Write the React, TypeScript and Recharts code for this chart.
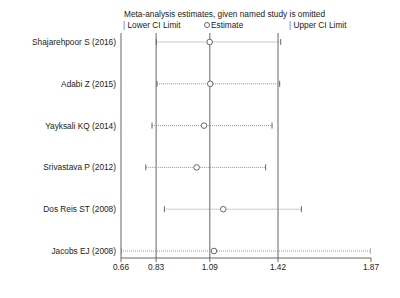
import React from 'react';
import { ScatterChart, Scatter, XAxis, YAxis, ReferenceLine } from 'recharts';

const studies = [
  'Shajarehpoor S (2016)',
  'Adabi Z (2015)',
  'Yayksali KQ (2014)',
  'Srivastava P (2012)',
  'Dos Reis ST (2008)',
  'Jacobs EJ (2008)',
];
const estimates = [1.089, 1.092, 1.062, 1.026, 1.155, 1.11];
const lowers = [0.831, 0.834, 0.81, 0.78, 0.87, 0.66];
const uppers = [1.433, 1.428, 1.391, 1.36, 1.533, 1.87];
const xTicks = [0.66, 0.83, 1.09, 1.42, 1.87];
const refLines = [0.83, 1.09, 1.42];

const FONT = '"Liberation Sans", Arial, sans-serif';
const FS = 8.3;
const TEXT = '#222';
const LINE = '#666';
const DOT = '#999';

const Cap = (props: any) => {
  const { cx, cy } = props;
  return <line x1={cx} x2={cx} y1={cy - 3} y2={cy + 3} stroke={LINE} strokeWidth={1} />;
};

const Circ = (props: any) => {
  const { cx, cy } = props;
  return <circle cx={cx} cy={cy} r={2.8} fill="#fff" stroke={LINE} strokeWidth={1} />;
};

const YTick = (props: any) => {
  const { x, y, payload } = props;
  return (
    <text x={x} y={y} dy="0.35em" textAnchor="end" fontSize={FS} fontFamily={FONT} fill={TEXT}>
      {studies[payload.value]}
    </text>
  );
};

const XTick = (props: any) => {
  const { x, y, payload } = props;
  return (
    <text x={x} y={y} dy="0.71em" textAnchor="middle" fontSize={FS} fontFamily={FONT} fill={TEXT}>
      {Number(payload.value).toFixed(2)}
    </text>
  );
};

export default function App() {
  const estData = estimates.map((v, i) => ({ x: v, y: i }));
  const txt: React.CSSProperties = { position: 'absolute', fontSize: FS, color: TEXT, whiteSpace: 'nowrap', lineHeight: '10px' };
  return (
    <div style={{ position: 'absolute', left: 0, top: 0, width: 400, height: 298, background: '#fff', fontFamily: FONT }}>
      <ScatterChart width={400} height={298} margin={{ top: 33, right: 29, left: 0, bottom: 0 }}>
        <XAxis
          type="number"
          dataKey="x"
          domain={[0.66, 1.87]}
          ticks={xTicks}
          height={40}
          stroke={LINE}
          tickSize={4}
          tickMargin={2}
          tick={<XTick />}
          allowDataOverflow
        />
        <YAxis
          type="number"
          dataKey="y"
          domain={[-0.215, 5.167]}
          ticks={[0, 1, 2, 3, 4, 5]}
          reversed
          width={121}
          stroke={LINE}
          tickLine={false}
          tickSize={3}
          tickMargin={2}
          tick={<YTick />}
          allowDataOverflow
          interval={0}
        />
        {refLines.map((v) => (
          <ReferenceLine key={v} x={v} stroke={LINE} strokeWidth={1} />
        ))}
        {studies.map((s, i) => (
          <Scatter
            key={s}
            data={[{ x: lowers[i], y: i }, { x: uppers[i], y: i }]}
            line={{ stroke: DOT, strokeDasharray: '1 1', strokeWidth: 1 }}
            lineType="joint"
            shape={<Cap />}
            isAnimationActive={false}
          />
        ))}
        <Scatter data={estData} shape={<Circ />} isAnimationActive={false} />
      </ScatterChart>
      <div style={{ ...txt, left: 124, top: 9 }}>
        Meta-analysis estimates, given named study is omitted
      </div>
      <div style={{ ...txt, left: 123, top: 20 }}>
        <span style={{ color: LINE }}>|</span> Lower CI Limit
      </div>
      <div style={{ ...txt, left: 204, top: 20, display: 'flex', alignItems: 'center' }}>
        <span style={{ display: 'inline-block', width: 4, height: 4, border: `1px solid ${LINE}`, borderRadius: '50%', marginRight: 1 }} />
        Estimate
      </div>
      <div style={{ ...txt, left: 289, top: 20 }}>
        <span style={{ color: LINE }}>|</span> Upper CI Limit
      </div>
    </div>
  );
}
